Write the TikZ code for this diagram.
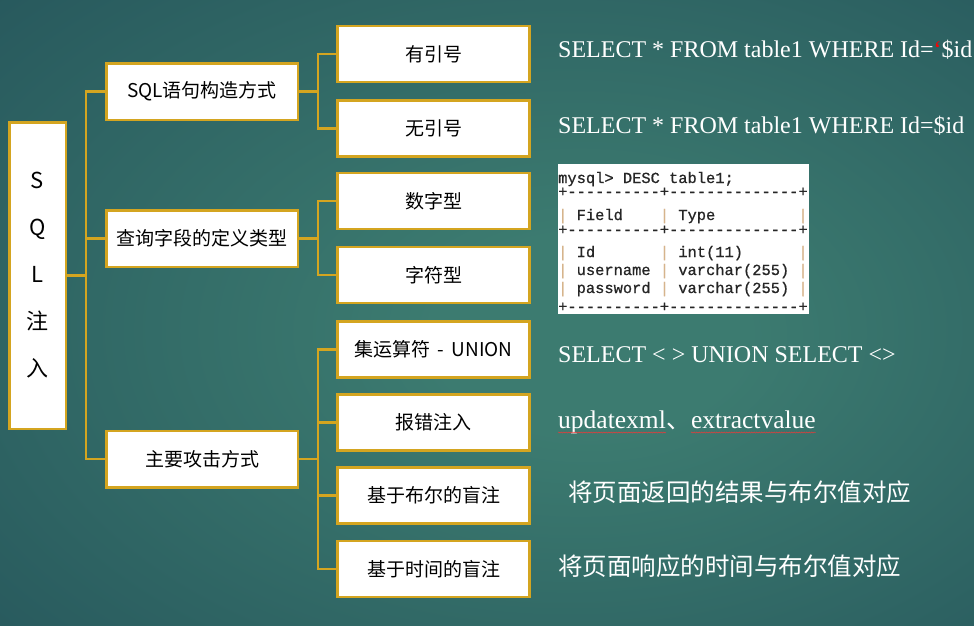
\documentclass[tikz,border=0pt]{standalone}
\usepackage{fontspec}
\setmainfont{Noto Sans CJK SC}
\newfontfamily\cjkfont{Noto Sans CJK SC}
\newfontfamily\sqlfont{Liberation Serif}
\newfontfamily\dbfont[FakeBold=0.8]{Liberation Mono}
\usepackage{tikz}
\usetikzlibrary{decorations.pathmorphing}
\definecolor{gold}{RGB}{212,165,32}
\definecolor{bgin}{RGB}{60,123,112}
\definecolor{bgmid}{RGB}{32,76,86}
\definecolor{bgout}{RGB}{22,58,72}
\definecolor{pipe}{RGB}{214,180,140}
\pgfdeclareradialshading{bgshade}{\pgfpoint{6bp}{-2bp}}{color(0bp)=(bgin); color(8bp)=(bgin); color(50bp)=(bgmid); color(71bp)=(bgout)}
\newcommand{\pp}{\textcolor{pipe}{|}}

\begin{document}
\begin{tikzpicture}[x=1pt, y=-1pt,
	box/.style={draw=gold, line width=2.5pt, fill=white, inner sep=0pt, font=\fontsize{19}{22}\selectfont},
	topic/.style={box, minimum width=191.5pt, minimum height=56.5pt},
	sub/.style={box, minimum width=192pt, minimum height=56pt},
	link/.style={gold, line width=2.5pt},
	note/.style={text=white, inner sep=0pt, anchor=base west, font=\sqlfont\fontsize{24}{28}\selectfont},
	cnote/.style={note, font=\cjkfont\fontsize{24.5}{28}\selectfont},
	row/.style={inner sep=0pt, anchor=base west, text=black!85, font=\dbfont\fontsize{15.4}{18}\selectfont},
	wavy/.style={red!80, line width=0.45pt, decorate, decoration={snake, amplitude=0.5pt, segment length=2.5pt}}]
			\useasboundingbox (0,0) rectangle (974,625);
			\shade[shading=bgshade] (0,0) rectangle (974,625);

			\node[box, minimum width=56.5pt, minimum height=306.5pt, align=center, font=\fontsize{22}{47}\selectfont] (root) at (37.5,275.5) {S\\Q\\L\\注\\入};

			\node[topic] (s1) at (202,91.5) {SQL语句构造方式};
			\node[topic] (s2) at (202,238.5) {查询字段的定义类型};
			\node[topic] (s3) at (202,459) {主要攻击方式};

			\node[sub] (a1) at (433.5,54) {有引号};
			\node[sub] (a2) at (433.5,128.5) {无引号};
			\node[sub] (a3) at (433.5,201) {数字型};
			\node[sub] (a4) at (433.5,275) {字符型};
			\node[sub] (c1) at (433.5,349.5) {集运算符\hspace{7pt}-\hspace{8pt}UNION};
			\node[sub] (c2) at (433.5,422.5) {报错注入};
			\node[sub] (c3) at (433.5,495.5) {基于布尔的盲注};
			\node[sub] (c4) at (433.5,569) {基于时间的盲注};

			\coordinate (trunk) at (86,275.5);
			\coordinate (b1) at (318,91.5);
			\coordinate (b2) at (318,238.5);
			\coordinate (b3) at (318,459);
			\draw[link, line width=3.5pt] (root.east) -- (trunk);
			\draw[link] (s1.west) -| (trunk) |- (s3.west);
			\draw[link] (trunk) |- (s2.west);
			\draw[link] (s1.east) -- (b1);
			\draw[link] (a1.west) -| (b1) |- (a2.west);
			\draw[link] (s2.east) -- (b2);
			\draw[link] (a3.west) -| (b2) |- (a4.west);
			\draw[link] (s3.east) -- (b3);
			\draw[link] (c1.west) -| (b3) |- (c4.west);
			\draw[link] (b3) |- (c2.west);
			\draw[link] (b3) |- (c3.west);

			\node[note] (q1) at (558,57) {SELECT * FROM table1 WHERE Id=\textcolor{red}{‘}\$id};
			\node[note] (q2) at (558,133) {SELECT * FROM table1 WHERE Id=\$id};

			\node[fill=white, inner sep=0pt, minimum width=251pt, minimum height=150pt, anchor=north west] (desc) at (558,164) {};
			\node[row] at (558,183) {mysql> DESC table1;};
			\node[row] at (558,196.5) {+----------+--------------+};
			\node[row] at (558,220) {\pp~Field~~~~\pp~Type~~~~~~~~~\pp};
			\node[row] at (558,234.5) {+----------+--------------+};
			\node[row] at (558,257) {\pp~Id~~~~~~~\pp~int(11)~~~~~~\pp};
			\node[row] at (558,275) {\pp~username~\pp~varchar(255)~\pp};
			\node[row] at (558,293) {\pp~password~\pp~varchar(255)~\pp};
			\node[row] at (558,311.5) {+----------+--------------+};

			\node[note] (u0) at (558,362) {SELECT < > UNION SELECT <>};
			\node[note, font=\sqlfont\fontsize{25.5}{28}\selectfont] (u1) at (558,428) {updatexml};
			\node[cnote] (u2) at (u1.base east) {、};
			\node[note, font=\sqlfont\fontsize{25.5}{28}\selectfont] (u3) at (u2.base east) {extractvalue};
			\draw[wavy] ([yshift=-4.5pt]u1.base west) -- ([yshift=-4.5pt]u1.base east);
			\draw[wavy] ([yshift=-4.5pt]u3.base west) -- ([yshift=-4.5pt]u3.base east);

			\node[cnote] (r3) at (568,501) {将页面返回的结果与布尔值对应};
			\node[cnote] (r4) at (558,575) {将页面响应的时间与布尔值对应};
		\end{tikzpicture}
\end{document}
